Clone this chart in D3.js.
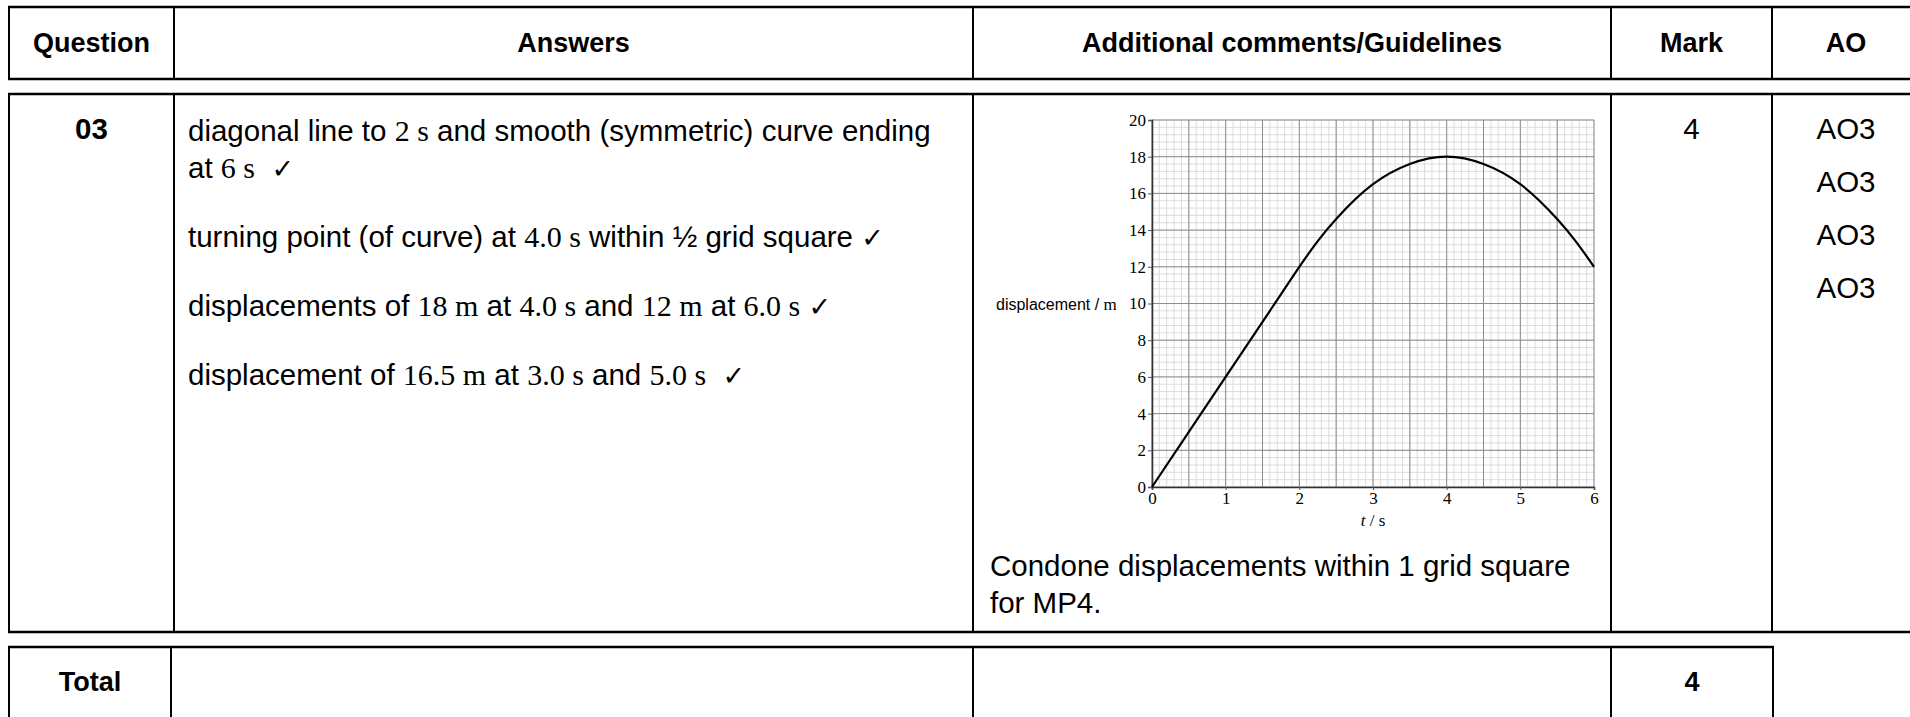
<!DOCTYPE html>
<html lang="en">
<head>
<meta charset="utf-8" />
<title>Question 03 mark scheme</title>
<script src="https://d3js.org/d3.v7.min.js"></script>
<style>
  body { margin: 0; background: #fff; }
  svg { display: block; }
  text { white-space: pre; fill: #000; }
  .sans { font-family: "Liberation Sans", Arial, sans-serif; }
  .serif { font-family: "Liberation Serif", "Times New Roman", serif; }
  .tick text { font-family: "Liberation Serif", "Times New Roman", serif; font-size: 17px; }
</style>
</head>
<body>
<div id="svgContainer"></div>
<script>
// values (t in s, displacement in m)
var tValues    = [0, 1, 1.75, 2, 2.25, 2.5, 3, 3.5, 4, 4.5, 5, 5.5, 5.75, 6];
var dispValues = [0, 6, 10.5, 12, 13.4, 14.6, 16.5, 17.6, 18, 17.6, 16.5, 14.6, 13.4, 12];
var tTicks = [0, 1, 2, 3, 4, 5, 6];
var dispTicks = [0, 2, 4, 6, 8, 10, 12, 14, 16, 18, 20];

var headers = ["Question", "Answers", "Additional comments/Guidelines", "Mark", "AO"];
var questionId = "03";
var markValue = "4";
var aoCodes = ["AO3", "AO3", "AO3", "AO3"];
var totalMark = "4";

// each answer line = list of [text, font]
var answerLines = [
  [["diagonal line to ", "sans"], ["2 s", "serif"], [" and smooth (symmetric) curve ending", "sans"]],
  [["at ", "sans"], ["6 s", "serif"], ["  ", "sans"], ["\u2713", "chk"]],
  [["turning point (of curve) at ", "sans"], ["4.0 s", "serif"], [" within \u00bd grid square ", "sans"], ["\u2713", "chk"]],
  [["displacements of ", "sans"], ["18 m", "serif"], [" at ", "sans"], ["4.0 s", "serif"], [" and ", "sans"],
   ["12 m", "serif"], [" at ", "sans"], ["6.0 s", "serif"], [" ", "sans"], ["\u2713", "chk"]],
  [["displacement of ", "sans"], ["16.5 m", "serif"], [" at ", "sans"], ["3.0 s", "serif"], [" and ", "sans"],
   ["5.0 s", "serif"], ["  ", "sans"], ["\u2713", "chk"]]
];
var answerBaselines = [141, 178, 247, 316, 385];
var commentLines = ["Condone displacements within 1 grid square", "for MP4."];

var width = 1910, height = 717;
var cols = [9, 174, 973, 1611, 1772, 1920];
var totalCols = [9, 171, 973, 1611, 1773];

var svg = d3.select("#svgContainer").append("svg")
    .attr("width", width).attr("height", height);

function hline(x1, x2, y, w) {
  svg.append("line").attr("x1", x1).attr("x2", x2).attr("y1", y).attr("y2", y)
     .attr("stroke", "#000").attr("stroke-width", w);
}
function vline(x, y1, y2, w) {
  svg.append("line").attr("x1", x).attr("x2", x).attr("y1", y1).attr("y2", y2)
     .attr("stroke", "#000").attr("stroke-width", w);
}

// header table
hline(cols[0] - 1, width, 7, 2.5);
hline(cols[0] - 1, width, 79, 2.5);
cols.slice(0, 5).forEach(function(c) { vline(c, 7, 79, 2); });
headers.forEach(function(h, i) {
  svg.append("text").attr("class", "sans")
     .attr("x", (cols[i] + cols[i + 1]) / 2).attr("y", 52)
     .attr("text-anchor", "middle").attr("font-weight", "bold").attr("font-size", 27)
     .text(h);
});

// answer row
hline(cols[0] - 1, width, 94, 2.5);
hline(cols[0] - 1, width, 632, 2.5);
cols.slice(0, 5).forEach(function(c) { vline(c, 94, 632, 2); });

svg.append("text").attr("class", "sans")
   .attr("x", (cols[0] + cols[1]) / 2).attr("y", 138.5)
   .attr("text-anchor", "middle").attr("font-weight", "bold").attr("font-size", 29.5)
   .text(questionId);

answerLines.forEach(function(line, i) {
  var t = svg.append("text").attr("x", cols[1] + 14).attr("y", answerBaselines[i]);
  line.forEach(function(seg) {
    var sp = t.append("tspan").text(seg[0]);
    if (seg[1] === "serif") sp.attr("class", "serif").attr("font-size", 30);
    else if (seg[1] === "chk") sp.attr("font-family", "DejaVu Sans").attr("font-size", 27);
    else sp.attr("class", "sans").attr("font-size", 29.5);
  });
});

svg.append("text").attr("class", "sans")
   .attr("x", (cols[3] + cols[4]) / 2).attr("y", 138.5)
   .attr("text-anchor", "middle").attr("font-size", 29.5)
   .text(markValue);

svg.selectAll("text.ao").data(aoCodes).enter().append("text")
   .attr("class", "sans ao")
   .attr("x", (cols[4] + cols[5]) / 2)
   .attr("y", function(d, i) { return 138.5 + i * 53.3; })
   .attr("text-anchor", "middle").attr("font-size", 29.5)
   .text(function(d) { return d; });

commentLines.forEach(function(l, i) {
  svg.append("text").attr("class", "sans")
     .attr("x", cols[2] + 17).attr("y", 576 + i * 37)
     .attr("font-size", 29.5).text(l);
});

// total row
hline(totalCols[0] - 1, totalCols[4] + 1, 647, 2.5);
totalCols.forEach(function(c) { vline(c, 647, height + 5, 2); });
svg.append("text").attr("class", "sans")
   .attr("x", (totalCols[0] + totalCols[1]) / 2).attr("y", 691)
   .attr("text-anchor", "middle").attr("font-weight", "bold").attr("font-size", 27)
   .text("Total");
svg.append("text").attr("class", "sans")
   .attr("x", (totalCols[3] + totalCols[4]) / 2).attr("y", 691)
   .attr("text-anchor", "middle").attr("font-weight", "bold").attr("font-size", 27)
   .text(totalMark);

// graph
var x = d3.scaleLinear().domain([0, 6]).range([1152, 1594]);
var y = d3.scaleLinear().domain([0, 20]).range([487, 120]);
var g = svg.append("g");

var minorT = d3.range(0, 6.001, 0.1), minorS = d3.range(0, 20.001, 0.4);
var majorT = d3.range(0, 6.001, 0.5);

g.selectAll("line.minx").data(minorT).enter().append("line")
  .attr("x1", x).attr("x2", x).attr("y1", y(0)).attr("y2", y(20))
  .attr("stroke", "#d4d4d4").attr("stroke-width", 0.8);
g.selectAll("line.miny").data(minorS).enter().append("line")
  .attr("y1", y).attr("y2", y).attr("x1", x(0)).attr("x2", x(6))
  .attr("stroke", "#d4d4d4").attr("stroke-width", 0.8);
g.selectAll("line.majx").data(majorT).enter().append("line")
  .attr("x1", x).attr("x2", x).attr("y1", y(0)).attr("y2", y(20))
  .attr("stroke", "#8c8c8c").attr("stroke-width", 1);
g.selectAll("line.majy").data(dispTicks).enter().append("line")
  .attr("y1", y).attr("y2", y).attr("x1", x(0)).attr("x2", x(6))
  .attr("stroke", "#8c8c8c").attr("stroke-width", 1);

var xAxis = g.append("g").attr("transform", "translate(0," + y(0) + ")")
  .call(d3.axisBottom(x).tickValues(tTicks).tickSize(3).tickPadding(2).tickFormat(d3.format("d")));
var yAxis = g.append("g").attr("transform", "translate(" + x(0) + ",0)")
  .call(d3.axisLeft(y).tickValues(dispTicks).tickSize(4).tickPadding(2).tickFormat(d3.format("d")));
[xAxis, yAxis].forEach(function(a) {
  a.select(".domain").attr("stroke", "#333").attr("stroke-width", 1.6);
  a.selectAll(".tick line").attr("stroke", "#555");
  a.selectAll(".tick text").attr("font-family", null).attr("font-size", null).attr("fill", "#111");
});

var lineGen = d3.line()
  .x(function(d) { return x(d[0]); })
  .y(function(d) { return y(d[1]); })
  .curve(d3.curveMonotoneX);
g.append("path").datum(d3.zip(tValues, dispValues))
  .attr("d", lineGen).attr("fill", "none").attr("stroke", "#000").attr("stroke-width", 2.2);

var xl = g.append("text").attr("class", "serif").attr("x", x(3)).attr("y", 526)
  .attr("text-anchor", "middle").attr("font-size", 17);
xl.append("tspan").attr("font-style", "italic").text("t");
xl.append("tspan").text(" / s");

var yl = g.append("text").attr("x", 996).attr("y", y(10) + 6);
yl.append("tspan").attr("class", "sans").attr("font-size", 16).text("displacement / ");
yl.append("tspan").attr("class", "serif").attr("font-size", 17).text("m");
</script>
</body>
</html>
